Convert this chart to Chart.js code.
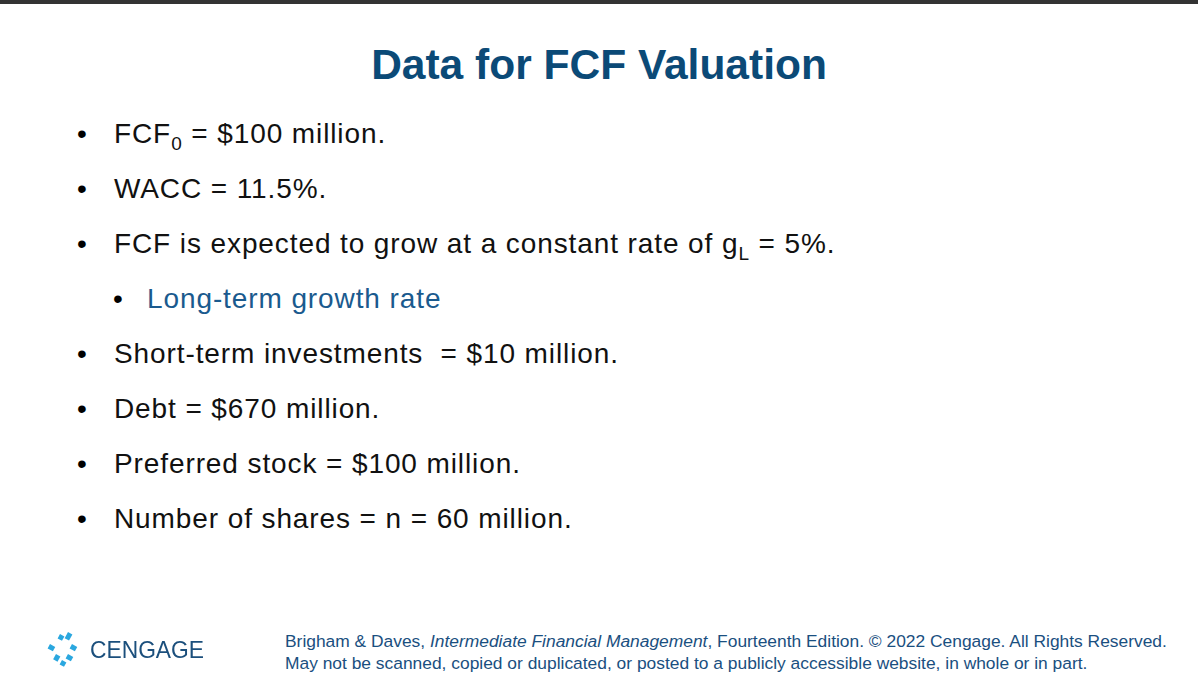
<!DOCTYPE html>
<html>
<head>
<meta charset="utf-8">
<script src="https://cdn.jsdelivr.net/npm/chart.js@4"></script>
<style>
  body { margin: 0; width: 1198px; height: 677px; background: #fff; font-family: "Liberation Sans", Arial, sans-serif; position: relative; overflow: hidden; }
  #topbar { position: absolute; left: 0; top: 0; width: 1198px; height: 4px; background: #333; }
  #title { position: absolute; top: 41px; left: 0; width: 1198px; text-align: center; font-size: 42.5px; font-weight: bold; color: #0b4a77; }
  .item { position: absolute; font-size: 28px; letter-spacing: 0.9px; color: #111; white-space: nowrap; }
  .dot { position: absolute; font-size: 28px; }
  .sub { color: #1a5a8e; }
  sub { font-size: 19px; vertical-align: -7px; }
  #footer { position: absolute; left: 285px; top: 630px; font-size: 17.4px; color: #1a4f80; line-height: 22px; white-space: nowrap; }
  #logo { position: absolute; left: 46px; top: 630px; }
</style>
</head>
<body>
<div id="topbar"></div>
<div id="title">Data for FCF Valuation</div>
<div id="items"></div>
<canvas id="logo" width="170" height="40"></canvas>
<div id="footer">Brigham &amp; Daves, <i>Intermediate Financial Management</i>, Fourteenth Edition. © 2022 Cengage. All Rights Reserved.<br>May not be scanned, copied or duplicated, or posted to a publicly accessible website, in whole or in part.</div>
<script>
// Slide bullets (level 0 = main, 1 = sub)
const bulletTexts = [
  'FCF<sub>0</sub> = $100 million.',
  'WACC = 11.5%.',
  'FCF is expected to grow at a constant rate of g<sub>L</sub> = 5%.',
  'Long-term growth rate',
  'Short-term investments &nbsp;= $10 million.',
  'Debt = $670 million.',
  'Preferred stock = $100 million.',
  'Number of shares = n = 60 million.'
];
const bulletLevels = [0, 0, 0, 1, 0, 0, 0, 0];

const box = document.getElementById('items');
bulletTexts.forEach((t, i) => {
  const top = 118 + i * 55;
  const lvl = bulletLevels[i];
  const dot = document.createElement('div');
  dot.className = 'dot';
  dot.style.left = (lvl ? 113 : 77) + 'px';
  dot.style.top = top + 'px';
  dot.textContent = '•';
  const el = document.createElement('div');
  el.className = 'item' + (lvl ? ' sub' : '');
  el.style.left = (lvl ? 147 : 114) + 'px';
  el.style.top = top + 'px';
  el.innerHTML = t;
  box.appendChild(dot);
  box.appendChild(el);
});

// Cengage logo drawn on a Chart.js canvas via a plugin
new Chart(document.getElementById('logo'), {
  type: 'scatter',
  data: { datasets: [] },
  options: {
    responsive: false, animation: false,
    plugins: { legend: { display: false }, tooltip: { enabled: false } },
    scales: { x: { display: false }, y: { display: false } }
  },
  plugins: [{
    id: 'logoDraw',
    afterDraw(chart) {
      const c = chart.ctx;
      c.save();
      c.fillStyle = '#2aa7df';
      [[14,4,5,5],[22,2,5,7],[4,14,6,5],[26,14,6,5],[10,24,5,6],[22,24,6,5],[16,30,5,5]].forEach(r => {
        c.save(); c.translate(r[0], r[1]); c.rotate(0.5); c.fillRect(0, 0, r[2], r[3]); c.restore();
      });
      c.fillStyle = '#1b4f7c';
      c.font = '24px "Liberation Sans", Arial';
      c.textBaseline = 'middle';
      c.fillText('CENGAGE', 44, 21, 114);
      c.restore();
    }
  }]
});
</script>
</body>
</html>
